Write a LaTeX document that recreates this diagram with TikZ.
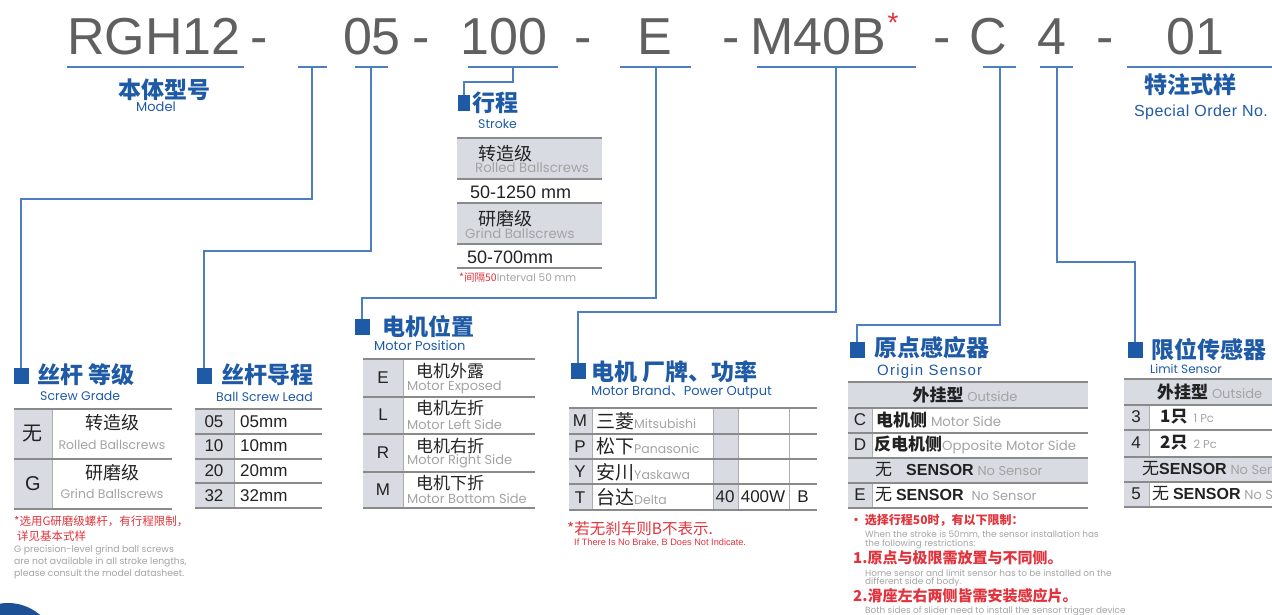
\documentclass[tikz,border=0pt]{standalone}
\usepackage{fontspec}
\setmainfont{Liberation Sans}
\newfontfamily\cjk{Noto Sans CJK SC}
\newfontfamily\geo{Poppins}
\definecolor{hdgray}{HTML}{606060}
\definecolor{ttlblue}{HTML}{1F5AA6}
\definecolor{lnblue}{HTML}{4D7EC2}
\definecolor{rulegray}{HTML}{8A8A8A}
\definecolor{cellgray}{HTML}{D9DBE3}
\definecolor{txtgray}{HTML}{222222}
\definecolor{engray}{HTML}{A3A3A3}
\definecolor{redc}{HTML}{E2333C}
\newcommand\fsz[1]{\fontsize{#1}{#1}\selectfont}
\newcommand\eng[2]{{\geo\fsz{#1}\color{engray}#2}}

\tikzset{
  hd/.style={font=\fsz{52}, text=hdgray, inner sep=0, anchor=base},
  ttl/.style={font=\cjk\bfseries\fsz{23}, text=ttlblue, inner sep=0, anchor=west},
  sub/.style={font=\geo\fsz{12.5}, text=ttlblue, inner sep=0, anchor=west},
  sq/.style={fill=ttlblue, minimum width=15, minimum height=16, inner sep=0},
  link/.style={draw=lnblue, line width=1.4pt},
  rule/.style={draw=rulegray, line width=1.5pt},
  sep/.style={draw=rulegray!70, line width=0.8pt},
  cell/.style={fill=cellgray},
  zh/.style={font=\cjk\fsz{17}, text=txtgray, inner sep=0},
  en/.style={font=\geo\fsz{12.5}, text=engray, inner sep=0},
  lt/.style={font=\fsz{17}, text=txtgray, inner sep=0},
  rd/.style={font=\cjk\fsz{11.5}, text=redc, inner sep=0, anchor=west},
  nt/.style={font=\geo\fsz{9.3}, text=engray, inner sep=0, anchor=west},
}

\begin{document}
\begin{tikzpicture}[x=1pt,y=-1pt]
\useasboundingbox (0,0) rectangle (1272,615);
\clip (0,0) rectangle (1272,615);

% model code
\node[hd] (h1) at (154,55) {RGH12};
\node[hd] (h2) at (259,55) {-};
\node[hd] (h3) at (372,55) {05};
\node[hd] (h4) at (421,55) {-};
\node[hd] (h5) at (504,55) {100};
\node[hd] (h6) at (583,55) {-};
\node[hd] (h7) at (655,55) {E};
\node[hd] (h8) at (731,55) {-};
\node[hd] (h9) at (818,55) {M40B};
\node[hd,text=redc,font=\fsz{28}] (ast) at (893,33) {*};
\node[hd] (h10) at (942,55) {-};
\node[hd] (h11) at (988,55) {C};
\node[hd] (h12) at (1052,55) {4};
\node[hd] (h13) at (1105,55) {-};
\node[hd] (h14) at (1195,55) {01};

\draw[link] (67,67) -- (244,67);
\draw[link] (298,67) -- (327,67);
\draw[link] (355,67) -- (388,67);
\draw[link] (468,67) -- (558,67);
\draw[link] (620,67) -- (691,67);
\draw[link] (757,67) -- (916,67);
\draw[link] (983,67) -- (1016,67);
\draw[link] (1040,67) -- (1073,67);
\draw[link] (1127,67) -- (1272,67);

\coordinate (u2) at (312,67);
\coordinate (u3) at (371,67);
\coordinate (u4) at (513,67);
\coordinate (u5) at (656,67);
\coordinate (u6) at (836,67);
\coordinate (u7) at (1000,67);
\coordinate (u8) at (1057,67);

\node[ttl,anchor=center] (mz) at (164,90) {本体型号};
\node[sub,anchor=center,font=\geo\fsz{13}] (me) at (156,107) {Model};
\node[ttl,anchor=center] (sz) at (1190,85) {特注式样};
\node[sub,anchor=center,font=\fsz{16}\addfontfeatures{LetterSpace=3}] (se) at (1201,112) {Special Order No.};

% section squares
\node[sq] (sq1) at (21,376) {};
\node[sq] (sq2) at (204,376) {};
\node[sq,minimum width=12] (sq3) at (464,103) {};
\node[sq] (sq4) at (362,327) {};
\node[sq] (sq5) at (578,371) {};
\node[sq] (sq6) at (857,350) {};
\node[sq] (sq7) at (1135,350) {};

\draw[link] (u2) -- ++(0,132) -| (sq1.north);
\draw[link] (u3) -- ++(0,184) -| (sq2.north);
\draw[link] (u4) -- ++(0,15) -| (sq3.north);
\draw[link] (u5) -- ++(0,231) -| (sq4.north);
\draw[link] (u6) -- ++(0,245) -| (sq5.north);
\draw[link] (u7) -- ++(0,258) -| (sq6.north);
\draw[link] (u8) -- ++(0,195) -| (sq7.north);

% stroke
\node[ttl] (t3) at (472,103) {行程};
\node[sub] (s3) at (478,124) {Stroke};
\fill[cell] (457,138) rectangle (602,179);
\fill[cell] (457,203) rectangle (602,244);
\foreach \y in {138,179,203,244,268} \draw[rule] (457,\y) -- (602,\y);
\node[zh,anchor=west,font=\cjk\fsz{18}] (k1) at (478,154) {转造级};
\node[en,anchor=west,font=\geo\fsz{13.3}] (k1e) at (475,168) {Rolled Ballscrews};
\node[lt,anchor=west,font=\fsz{18}] (k1v) at (470,192) {50-1250 mm};
\node[zh,anchor=west,font=\cjk\fsz{18}] (k2) at (478,219) {研磨级};
\node[en,anchor=west,font=\geo\fsz{13.3}] (k2e) at (465,233) {Grind Ballscrews};
\node[lt,anchor=west,font=\fsz{18}] (k2v) at (467,257) {50-700mm};
\node[rd,font=\cjk\fsz{10.5}] (k3) at (459,278) {*间隔50\eng{10.5}{Interval 50 mm}};

% screw grade
\node[ttl] (t1) at (37,375) {丝杆 等级};
\node[sub] (s1) at (40,396) {Screw Grade};
\fill[cell] (14,409) rectangle (52,509);
\draw[sep] (52,409) -- (52,509);
\foreach \y in {409,459,509} \draw[rule] (14,\y) -- (172,\y);
\node[zh,font=\cjk\fsz{20}] (g1) at (33,434) {无};
\node[zh,font=\cjk\fsz{18}] (g1z) at (112,423) {转造级};
\node[en] (g1e) at (112,445) {Rolled Ballscrews};
\node[lt,font=\fsz{20}] (g2) at (33,484) {G};
\node[zh,font=\cjk\fsz{18}] (g2z) at (112,473) {研磨级};
\node[en] (g2e) at (112,494) {Grind Ballscrews};
\node[rd] (g3) at (14,521) {*选用G研磨级螺杆，有行程限制，};
\node[rd] (g4) at (17,536) {详见基本式样};
\node[nt] (g5) at (14,550) {G precision-level grind ball screws};
\node[nt] (g6) at (14,562) {are not available in all stroke lengths,};
\node[nt] (g7) at (14,574) {please consult the model datasheet.};

% ball screw lead
\node[ttl] (t2) at (221,375) {丝杆导程};
\node[sub] (s2) at (216,397) {Ball Screw Lead};
\fill[cell] (195,409) rectangle (234,508);
\draw[sep] (234,409) -- (234,508);
\foreach \y in {409,434,459,483,508} \draw[rule] (195,\y) -- (322,\y);
\foreach \ld [count=\i] in {05,10,20,32} {
  \node[lt] (l\i) at (214,396.5+24.75*\i) {\ld};
  \node[lt,anchor=west] (lv\i) at (240,396.5+24.75*\i) {\ld mm};
}

% motor position
\node[ttl] (t4) at (382,327) {电机位置};
\node[sub,font=\geo\fsz{13}] (s4) at (374,346) {Motor Position};
\fill[cell] (363,359) rectangle (403,508);
\draw[sep] (403,359) -- (403,508);
\foreach \y in {359,397,434,472,508} \draw[rule] (363,\y) -- (535,\y);
\foreach \m/\z/\e [count=\i] in {E/电机外露/Motor Exposed,L/电机左折/Motor Left Side,R/电机右折/Motor Right Side,M/电机下折/Motor Bottom Side} {
  \node[lt] (p\i) at (383,340.5+37.25*\i) {\m};
  \node[zh,anchor=west] (p\i z) at (416,334+37.25*\i) {\z};
  \node[en,anchor=west,font=\geo\fsz{13}] (p\i e) at (407,350+37.25*\i) {\e};
}

% motor brand
\node[ttl] (t5) at (591,372) {电机 厂牌、功率};
\node[sub,font=\geo\fsz{13}] (s5) at (591,392) {Motor Brand{\cjk 、}Power Output};
\fill[cell] (569,408) rectangle (592,510);
\fill[cell] (713,408) rectangle (738,510);
\foreach \x in {592,713,738,789} \draw[sep] (\x,408) -- (\x,510);
\foreach \y in {408,434,459,484,510} \draw[rule] (569,\y) -- (817,\y);
\foreach \m/\z/\e [count=\i] in {M/三菱/Mitsubishi,P/松下/Panasonic,Y/安川/Yaskawa,T/台达/Delta} {
  \node[lt] (b\i) at (580,395.5+25.5*\i) {\m};
  \node[zh,anchor=west,font=\cjk\fsz{19}] (b\i z) at (596,395.5+25.5*\i) {\z\eng{12.5}{\e}};
}
\node[lt] (b5) at (725,497) {40};
\node[lt] (b6) at (763,497) {400W};
\node[lt] (b7) at (803,497) {B};
\node[rd,font=\cjk\fsz{15.5}] (b8) at (567,529) {*若无刹车则B不表示.};
\node[rd,font=\fsz{9.2}] (b9) at (574,543) {If There Is No Brake, B Does Not Indicate.};

% origin sensor
\node[ttl] (t6) at (874,348) {原点感应器};
\node[sub,font=\fsz{15}\addfontfeatures{LetterSpace=8}] (s6) at (877,372) {Origin Sensor};
\fill[cell] (848,382) rectangle (1088,408);
\fill[cell] (848,458) rectangle (1088,483);
\fill[cell] (848,408) rectangle (872,458);
\fill[cell] (848,483) rectangle (872,508);
\draw[sep] (872,408) -- (872,458);
\draw[sep] (872,483) -- (872,508);
\foreach \y in {382,408,433,458,483,508} \draw[rule] (848,\y) -- (1088,\y);
\node[zh,font=\cjk\fsz{17}] (o1) at (965,395) {{\bfseries 外挂型} \eng{13}{Outside}};
\node[lt] (o2) at (860,420) {C};
\node[zh,anchor=west,font=\cjk\fsz{17}] (o2z) at (876,420) {{\bfseries 电机侧} \eng{13.3}{Motor Side}};
\node[zh,anchor=west,font=\cjk\fsz{17}] (o3z) at (874,445) {{\bfseries 反电机侧}\eng{13.3}{Opposite Motor Side}};
\node[lt] (o3) at (860,445) {D};
\node[zh,anchor=west,font=\cjk\fsz{17}] (o4z) at (875,470) {无\hspace{14pt}{\rmfamily\bfseries\fsz{16}SENSOR} \eng{13}{No Sensor}};
\node[lt] (o5) at (860,495) {E};
\node[zh,anchor=west,font=\cjk\fsz{17}] (o5z) at (875,495) {无 {\rmfamily\bfseries\fsz{16}SENSOR}\hspace{8pt}\eng{13}{No Sensor}};
\node[rd,font=\cjk\bfseries\fsz{12}] (o6) at (850,520) {• 选择行程50时，有以下限制：};
\node[nt,font=\geo\fsz{8.9}] (o7) at (865,535) {When the stroke is 50mm, the sensor installation has};
\node[nt,font=\geo\fsz{8.9}] (o8) at (865,544) {the following restrictions:};
\node[rd,font=\cjk\bfseries\fsz{15}] (o9) at (853,558) {1.原点与极限需放置与不同侧。};
\node[nt,font=\geo\fsz{8.9}] (o10) at (865,573) {Home sensor and limit sensor has to be installed on the};
\node[nt,font=\geo\fsz{8.9}] (o11) at (865,582) {different side of body.};
\node[rd,font=\cjk\bfseries\fsz{15}] (o12) at (853,596) {2.滑座左右两侧皆需安装感应片。};
\node[nt,font=\geo\fsz{8.9}] (o13) at (865,611) {Both sides of slider need to install the sensor trigger device};

% limit sensor
\node[ttl] (t7) at (1151,350) {限位传感器};
\node[sub,font=\geo\fsz{12}] (s7) at (1150,369) {Limit Sensor};
\fill[cell] (1124,379) rectangle (1280,405);
\fill[cell] (1124,457) rectangle (1280,482);
\fill[cell] (1124,405) rectangle (1149,457);
\fill[cell] (1124,482) rectangle (1149,507);
\draw[sep] (1149,405) -- (1149,457);
\draw[sep] (1149,482) -- (1149,507);
\foreach \y in {379,405,430,457,482,507} \draw[rule] (1124,\y) -- (1280,\y);
\node[zh,anchor=west,font=\cjk\fsz{17}] (q1) at (1157,392) {{\bfseries 外挂型} \eng{13}{Outside}};
\node[lt] (q2) at (1136,417) {3};
\node[zh,anchor=west,font=\cjk\fsz{17}] (q2z) at (1160,417) {{\bfseries 1只}\hspace{6pt}\eng{11.5}{1 Pc}};
\node[lt] (q3) at (1136,443) {4};
\node[zh,anchor=west,font=\cjk\fsz{17}] (q3z) at (1160,443) {{\bfseries 2只}\hspace{6pt}\eng{11.5}{2 Pc}};
\node[zh,anchor=west,font=\cjk\fsz{17}] (q4z) at (1142,469) {无{\rmfamily\bfseries\fsz{16}SENSOR} \eng{13}{No Sensor}};
\node[lt] (q5) at (1136,494) {5};
\node[zh,anchor=west,font=\cjk\fsz{17}] (q5z) at (1152,494) {无 {\rmfamily\bfseries\fsz{16}SENSOR} \eng{13}{No Sensor}};

\fill[ttlblue!90!black] (8,652) circle (49);
\end{tikzpicture}
\end{document}
